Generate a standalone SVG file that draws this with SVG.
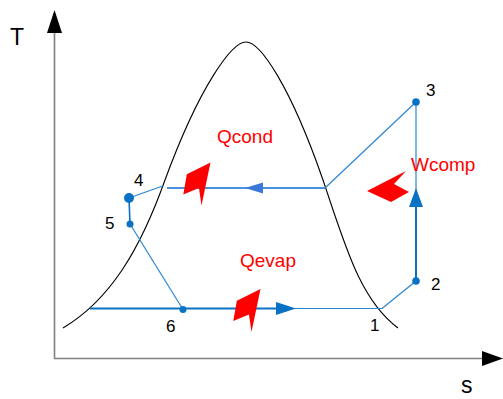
<svg xmlns="http://www.w3.org/2000/svg" width="503" height="399" viewBox="0 0 503 399">
<style>
.axis{stroke:#808080;stroke-width:1.6;fill:none}
.head{fill:#000}
.dome{stroke:#000;stroke-width:1.1;fill:none}
.thin{stroke:#2a86d6;stroke-width:1.2;fill:none}
.thick{stroke:#0a72c4;stroke-width:2;fill:none}
.dot{fill:#0a72c4}
.bh{fill:#0a72c4}
.lbl{font-family:"Liberation Sans",Arial,sans-serif;font-size:17px;fill:#000}
.ax{font-family:"Liberation Sans",Arial,sans-serif;font-size:23px;fill:#000}
.red{font-family:"Liberation Sans",Arial,sans-serif;font-size:19px;fill:#ff0000}
.ra{fill:#ff0000}
</style>
<defs>
<path id="redArrow" d="M0,0 L39,-20 L27,-7 L42,1 L24,11 Z"/>
</defs>
<rect width="503" height="399" fill="#fff"/>
<g id="axes">
<line class="axis" x1="54.5" y1="30" x2="54.5" y2="358.5"/>
<line class="axis" x1="54" y1="358.5" x2="484" y2="358.5"/>
<polygon class="head" points="54.5,10 47,33 62,33"/>
<polygon class="head" points="503,358.5 482,351 482,366"/>
<text class="ax" x="10" y="45">T</text>
<text class="ax" x="461" y="393">s</text>
</g>
<g id="dome">
<path class="dome" d="M63,328 C110,300 140,250 165,180 C200,85 232,42 246,42 C260,42 290,85 323,180 C345,245 360,300 398,328"/>
</g>
<g id="connectors">
<line class="thick" x1="90" y1="308.5" x2="278" y2="308.5"/>
<line class="thin" x1="278" y1="308.5" x2="382" y2="308.5"/>
<polygon class="bh" points="276,302 296,308.5 276,315"/>
<line class="thin" x1="382" y1="308.5" x2="416" y2="281"/>
<line class="thick" x1="416" y1="281" x2="416" y2="205"/>
<line class="thin" x1="416" y1="205" x2="416" y2="102"/>
<polygon class="bh" points="416,188 409,207 423,207"/>
<line class="thin" x1="416" y1="102" x2="325" y2="188"/>
<line style="stroke:#4a90dc;stroke-width:2;fill:none" x1="325" y1="188" x2="167" y2="188"/>
<polygon fill="#3c78d8" points="263,182.5 245,188 263,193.5"/>
<line class="thin" x1="164" y1="185.5" x2="129" y2="198"/>
<line class="thick" style="stroke-width:1.6" x1="129" y1="198" x2="130" y2="224"/>
<line class="thin" x1="130" y1="224" x2="183" y2="309.5"/>
</g>
<g id="node1"><text class="lbl" x="370" y="331">1</text></g>
<g id="node2"><circle class="dot" cx="416" cy="281" r="3.8"/><text class="lbl" x="431" y="290">2</text></g>
<g id="node3"><circle class="dot" cx="416" cy="102" r="3.8"/><text class="lbl" x="426" y="96">3</text></g>
<g id="node4"><circle class="dot" cx="129" cy="198" r="5"/><text class="lbl" x="134" y="186">4</text></g>
<g id="node5"><circle class="dot" cx="130" cy="224" r="3.5"/><text class="lbl" x="105" y="229">5</text></g>
<g id="node6"><circle class="dot" cx="183" cy="309.5" r="3.5"/><text class="lbl" x="166" y="332">6</text></g>
<g id="qcond">
<use href="#redArrow" class="ra" transform="translate(210.5,162.5) rotate(129)"/>
<text class="red" x="217" y="143">Qcond</text>
</g>
<g id="qevap">
<use href="#redArrow" class="ra" transform="translate(260.5,289) rotate(129)"/>
<text class="red" x="240" y="267">Qevap</text>
</g>
<g id="wcomp">
<use href="#redArrow" class="ra" transform="translate(367,191)"/>
<text class="red" x="411" y="171">Wcomp</text>
</g>
</svg>
